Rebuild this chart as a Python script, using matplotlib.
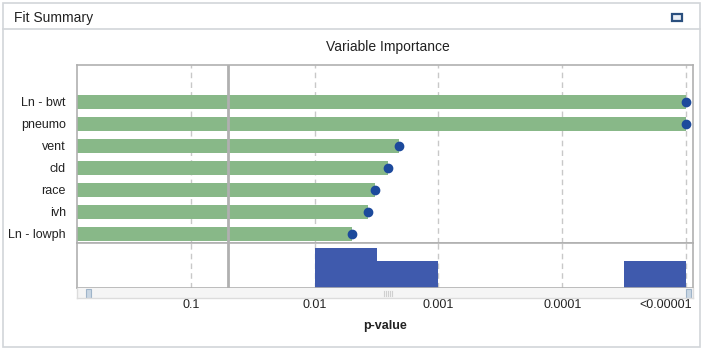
import numpy as np
import matplotlib
matplotlib.use("Agg")
import matplotlib.pyplot as plt
from matplotlib.patches import Rectangle

plt.rcParams['font.family'] = ['Liberation Sans', 'DejaVu Sans']

# ---- data ----
variables = ["Ln - lowph", "ivh", "race", "cld", "vent", "pneumo", "Ln - bwt"]
logworth = [2.30, 2.43, 2.49, 2.59, 2.68, 5.0, 5.0]   # -log10(p-value), capped at 5
tick_vals = [1, 2, 3, 4, 5]
tick_labels = ["0.1", "0.01", "0.001", "0.0001", "<0.00001"]
alpha_level = 0.05
hist_bins = np.arange(0, 5.01, 0.5)

W, H = 704, 351
fig = plt.figure(figsize=(W / 100, H / 100), dpi=100)

def fx(px):
    return px / W

def fy(py):
    return 1 - py / H

# outer frame and header
frame_col = "#d2d5d9"
fig.patches.append(Rectangle((fx(3), fy(347)), fx(697), fy(3) - fy(347),
                             transform=fig.transFigure, fill=False,
                             edgecolor=frame_col, lw=1.2))
fig.lines.append(plt.Line2D([fx(3), fx(700)], [fy(29), fy(29)],
                            transform=fig.transFigure, color=frame_col, lw=1.2))
fig.text(fx(14), fy(18), "Fit Summary", fontsize=10, va="center", ha="left",
         color="#222222")
fig.patches.append(Rectangle((fx(671.5), fy(20.5)), fx(10), fy(13.5) - fy(20.5),
                             transform=fig.transFigure, facecolor="#e9eef5",
                             edgecolor="#2a4f7e", lw=1.6))
fig.text(fx(388), fy(47), "Variable Importance", fontsize=10, ha="center",
         va="center", color="#222222")

xmin, xmax = 0.0806, 5.056
left, right = 77, 693
spine_col = "#b0b0b0"
grid_col = "#c8c8c8"
logalpha = -np.log10(alpha_level)

# main axes
ax = fig.add_axes([fx(left), fy(243), fx(right - left), fy(65) - fy(243)])
y = np.arange(len(variables))
ax.barh(y, [v - xmin for v in logworth], left=xmin, height=0.64,
        color="#88b888", zorder=2)
ax.scatter(logworth, y, s=36, color="#1c4a9c", zorder=4, clip_on=False)
ax.set_xlim(xmin, xmax)
ax.set_ylim(-0.41, 7.68)
ax.set_yticks(y)
ax.set_yticklabels(variables, fontsize=9, color="#222222")
ax.tick_params(axis="y", length=0, pad=8)
ax.set_xticks([])
for t in tick_vals:
    ax.axvline(t, color=grid_col, lw=1, ls=(0, (4, 3)), zorder=1)
ax.axvline(logalpha, color=spine_col, lw=2, zorder=3)
for s in ax.spines.values():
    s.set_color(spine_col)
    s.set_linewidth(1.2)

# histogram axes
hax = fig.add_axes([fx(left), fy(288), fx(right - left), fy(243) - fy(288)])
counts, edges = np.histogram(logworth, bins=hist_bins)
hax.bar(edges[:-1], counts, width=np.diff(edges), align="edge",
        color="#3f5aad", zorder=2)
hax.set_xlim(xmin, xmax)
hax.set_ylim(0, 3.375)
hax.set_xticks([])
hax.set_yticks([])
for t in tick_vals:
    hax.axvline(t, color=grid_col, lw=1, ls=(0, (4, 3)), zorder=1)
hax.axvline(logalpha, color=spine_col, lw=2, zorder=3)
for s in hax.spines.values():
    s.set_color(spine_col)
    s.set_linewidth(1.2)

# scroll strip with tick labels
sax = fig.add_axes([fx(left), fy(298), fx(right - left), fy(288) - fy(298)])
sax.set_facecolor("#f5f5f5")
sax.set_xlim(xmin, xmax)
sax.set_ylim(0, 1)
sax.set_yticks([])
sax.set_xticks(tick_vals)
sax.set_xticklabels(tick_labels, fontsize=9, color="#222222")
sax.tick_params(axis="x", length=0, pad=1)
# last label is right-aligned to the axis end
last = sax.get_xticklabels()[-1]
last.set_horizontalalignment("right")
import matplotlib.transforms as mtrans
last.set_transform(last.get_transform() + mtrans.ScaledTranslation(6 / 100, 0, fig.dpi_scale_trans))
for s in sax.spines.values():
    s.set_color("#dcdcdc")
    s.set_linewidth(1)
sax.spines["top"].set_visible(False)

def px2data(px):
    return xmin + (px - left) / (right - left) * (xmax - xmin)

for hx in (86, 686):
    sax.add_patch(Rectangle((px2data(hx), 0.05), px2data(hx + 5) - px2data(hx), 0.9,
                            facecolor="#c9d6e3", edgecolor="#9fb4c9", lw=0.8))
for gx in range(384, 394, 2):
    sax.plot([px2data(gx), px2data(gx)], [0.25, 0.75], color="#d0d0d0", lw=0.8)
sax.set_xlabel("p-value", fontsize=9, fontweight="bold", color="#222222",
               labelpad=6)

fig.savefig("out.png", dpi=100)
